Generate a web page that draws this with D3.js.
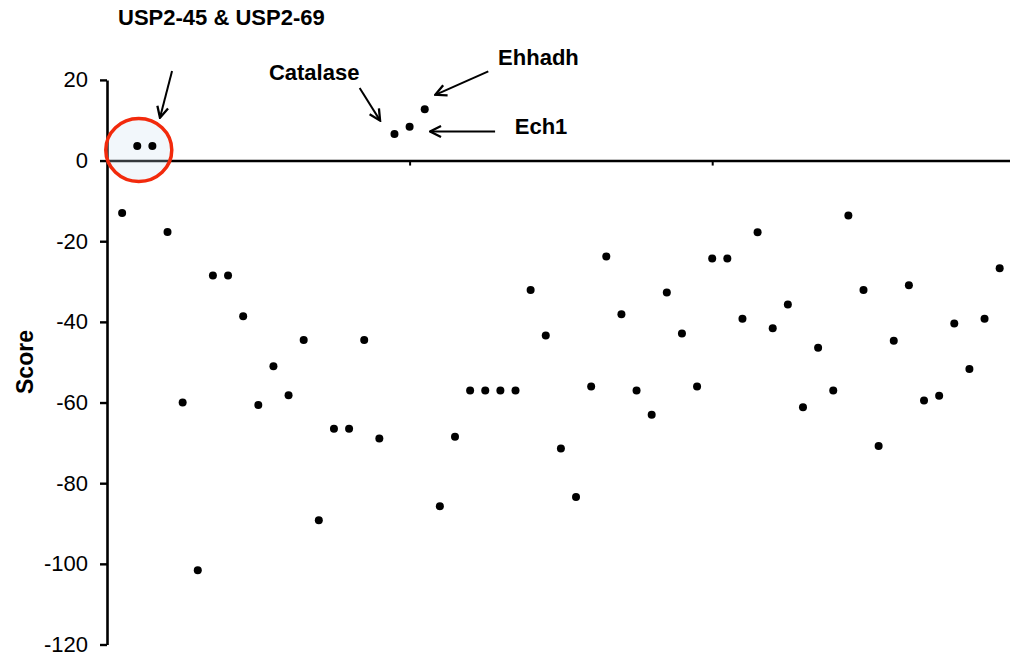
<!DOCTYPE html>
<html>
<head>
<meta charset="utf-8">
<script src="https://cdn.jsdelivr.net/npm/d3@7"></script>
<style>
  html, body { margin: 0; padding: 0; background: #fff; }
  svg { display: block; font-family: "Liberation Sans", Arial, sans-serif; }
</style>
</head>
<body>
<div id="chart"></div>
<script>
// scores, one per sample in plot order (index 1..59)
const scores = [
  -13, 3.6, 3.6, -17.7, -60, -101.6, -28.5, -28.5, -38.6, -60.6,
  -51, -58.2, -44.5, -89.2, -66.5, -66.5, -44.5, -68.9, 6.6, 8.4,
  12.7, -85.7, -68.5, -57, -57, -57, -57, -32.1, -43.4, -71.4,
  -83.4, -56, -23.8, -38.1, -57, -63, -32.7, -42.9, -56, -24.3,
  -24.3, -39.2, -17.8, -41.6, -35.7, -61.2, -46.4, -57, -13.6, -32.1,
  -70.8, -44.7, -30.9, -59.5, -58.3, -40.4, -51.7, -39.2, -26.7
];
const yTicks = [20, 0, -20, -40, -60, -80, -100, -120];
const xTicks = [20, 40];

// annotations: label text, label anchor (left edge, baseline), arrow start/end in data units
const annotations = [
  { text: "USP2-45 & USP2-69", lx: 0.73, ly: 33.5, from: [4.3, 22.2], to: [3.5, 10.6] },
  { text: "Catalase", lx: 10.7, ly: 20, from: [16.7, 18], to: [18.05, 9.9] },
  { text: "Ehhadh", lx: 25.85, ly: 23.8, from: [25.2, 22.1], to: [21.7, 16.3] },
  { text: "Ech1", lx: 26.95, ly: 6.6, from: [25.65, 7.2], to: [21.35, 7.2] }
];

const width = 1010, height = 658;
const left = 107;

const x = d3.scaleLinear().domain([0, 60]).range([left, left + 15.13 * 60]);
const y = d3.scaleLinear().domain([-120, 20]).range([644.5, 79.9]);

const svg = d3.select("#chart").append("svg")
  .attr("width", width)
  .attr("height", height);

svg.append("defs").append("marker")
  .attr("id", "head")
  .attr("viewBox", "0 0 14 14")
  .attr("refX", 12.5).attr("refY", 7)
  .attr("markerWidth", 14).attr("markerHeight", 14)
  .attr("markerUnits", "userSpaceOnUse")
  .attr("orient", "auto")
  .append("path")
  .attr("d", "M1.5,1.5 L12.5,7 L1.5,12.5")
  .attr("fill", "none")
  .attr("stroke", "#000")
  .attr("stroke-width", 2.3);

// y axis
const yAxis = svg.append("g")
  .attr("transform", `translate(${left},0)`)
  .call(d3.axisLeft(y).tickValues(yTicks).tickSize(7).tickSizeOuter(0).tickPadding(12).tickFormat(d3.format("d")));
yAxis.select(".domain").attr("stroke-width", 2.6);
yAxis.selectAll(".tick line").attr("stroke-width", 2.4);
yAxis.selectAll(".tick text")
  .attr("font-size", 22)
  .attr("font-family", "Liberation Sans, Arial, sans-serif")
  .attr("fill", "#000")
  .text(d => d < 0 ? "-" + Math.abs(d) : d);

// x axis along zero
const xAxis = svg.append("g")
  .attr("transform", `translate(0,${y(0)})`)
  .call(d3.axisBottom(x).tickValues(xTicks).tickSize(5).tickSizeOuter(0).tickFormat(""));
xAxis.select(".domain").attr("stroke-width", 2.6);
xAxis.selectAll(".tick line").attr("stroke-width", 2);

// highlight circle round the USP2 points
svg.append("ellipse")
  .attr("cx", x(2.1)).attr("cy", y(2.6))
  .attr("rx", 33).attr("ry", 31.5)
  .attr("fill", "rgba(205,222,240,0.25)")
  .attr("stroke", "#f22a0c")
  .attr("stroke-width", 3.5);

// points
svg.selectAll(".pt")
  .data(scores)
  .join("circle")
  .attr("class", "pt")
  .attr("cx", (d, i) => x(i + 1))
  .attr("cy", d => y(d))
  .attr("r", 4)
  .attr("fill", "#000");

// y label
svg.append("text")
  .attr("transform", `translate(33,362) rotate(-90)`)
  .attr("text-anchor", "middle")
  .attr("font-size", 23)
  .attr("font-weight", "bold")
  .text("Score");

// annotations
svg.selectAll(".lbl")
  .data(annotations)
  .join("text")
  .attr("class", "lbl")
  .attr("x", d => x(d.lx))
  .attr("y", d => y(d.ly))
  .attr("font-size", 22)
  .attr("font-weight", "bold")
  .text(d => d.text);

svg.selectAll(".arrow")
  .data(annotations)
  .join("line")
  .attr("class", "arrow")
  .attr("x1", d => x(d.from[0])).attr("y1", d => y(d.from[1]))
  .attr("x2", d => x(d.to[0])).attr("y2", d => y(d.to[1]))
  .attr("stroke", "#000")
  .attr("stroke-width", 2)
  .attr("marker-end", "url(#head)");
</script>
</body>
</html>
